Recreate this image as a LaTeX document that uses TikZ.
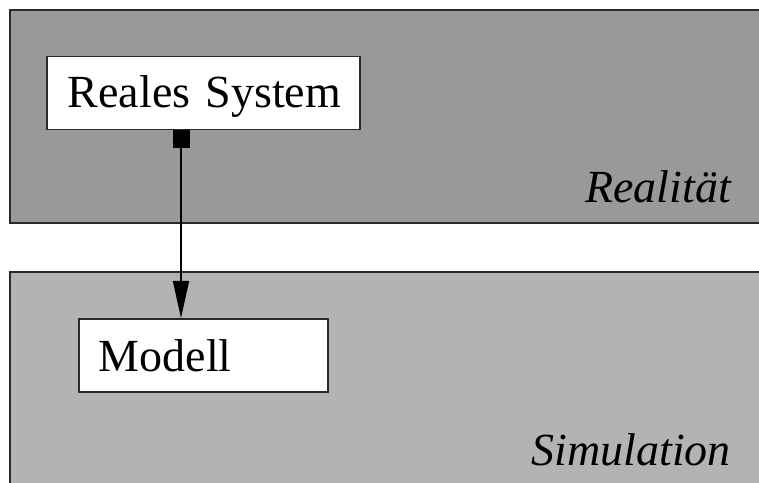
\documentclass[tikz,border=0pt]{standalone}
\usepackage{fontspec}
\setmainfont{Liberation Serif}
\usetikzlibrary{arrows.meta}
\definecolor{layerTop}{HTML}{999999}
\definecolor{layerBottom}{HTML}{B3B3B3}
\definecolor{edge}{HTML}{2A2A2A}
\tikzset{
  layer/.style={draw=edge, line width=1.8pt},
  sysbox/.style={draw=edge, fill=white, line width=1.5pt, inner ysep=0pt,
    anchor=north west, align=left,
    font=\fontsize{46}{50}\selectfont},
  layerlabel/.style={anchor=base east, inner sep=0pt,
    font=\fontsize{46}{50}\selectfont\itshape},
  conn/.style={line width=1.6pt, black,
    {Square[length=18pt,width=17pt]}-{Triangle[length=37pt,width=16pt]}}
}
\begin{document}
\begin{tikzpicture}[x=1pt,y=1pt]
  \useasboundingbox (0,0) rectangle (759,482);
  % the two layers
  \fill[white] (0,0) rectangle (759,482);
  \draw[layer, fill=layerTop] (10,472) rectangle (775,259);
  \draw[layer, fill=layerBottom] (10,210) rectangle (775,-20);
  % boxes
  \node[sysbox, inner xsep=21pt, text width=271pt, text height=51pt, text depth=22pt]
    (rs) at (46,426) {\mbox{Reales System}};
  \node[sysbox, inner xsep=20pt, text width=209pt, text height=53pt, text depth=20pt]
    (mod) at (78,164) {\mbox{Modell}};
  % layer labels
  \node[layerlabel] (lreal) at (731,279) {Realität};
  \node[layerlabel] (lsim) at (731,17) {Simulation};
  % connector from the real system to its model
  \coordinate (ax) at (181,0);
  \draw[conn] (rs.south -| ax) -- (mod.north -| ax);
\end{tikzpicture}
\end{document}
